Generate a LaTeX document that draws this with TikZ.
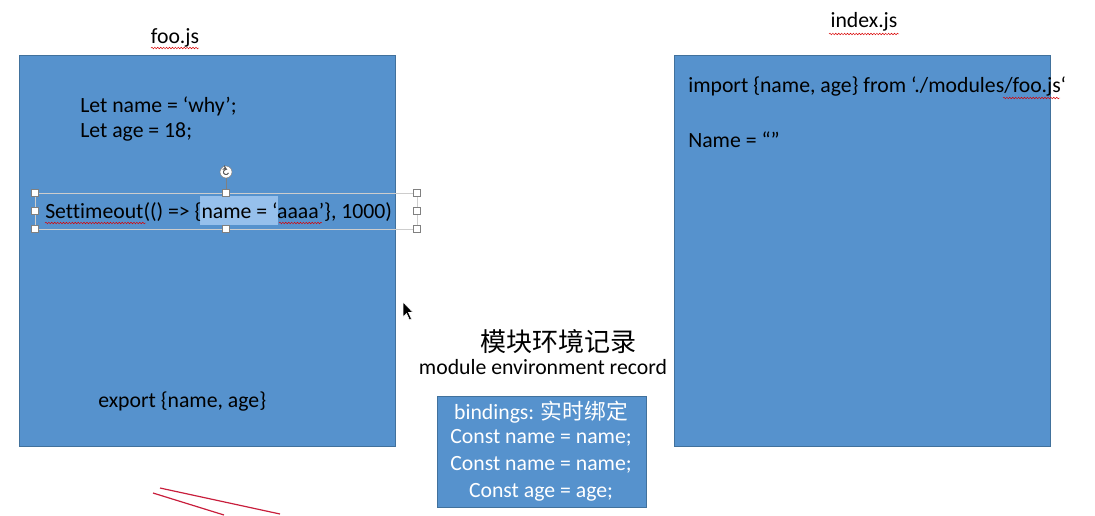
\documentclass[tikz,border=0pt]{standalone}
\usepackage{fontspec}
\setmainfont[Ligatures=NoCommon]{Carlito}
\newfontfamily\cjk{Noto Sans CJK SC}
\usetikzlibrary{decorations.pathmorphing}
\definecolor{boxblue}{RGB}{86,146,205}
\definecolor{boxedge}{RGB}{65,113,156}
\definecolor{hilite}{RGB}{150,192,236}
\definecolor{inkred}{RGB}{200,30,60}
\definecolor{selgray}{RGB}{205,205,205}
\newcommand{\fsz}{\fontsize{16.3pt}{19pt}\selectfont}
\tikzset{
  panel/.style={draw=boxedge, fill=boxblue, line width=0.6pt},
  txt/.style={inner sep=0pt, anchor=west, font=\fsz, text=black},
  wtxt/.style={inner sep=0pt, font=\fsz, text=white},
  handle/.style={draw=gray, fill=white, line width=0.4pt},
  spell/.style={draw=red!85!black, line width=0.35pt, decorate, decoration={snake, amplitude=0.6pt, segment length=2.2pt}},
  redline/.style={draw=inkred, line width=0.9pt}
}
\begin{document}
\begin{tikzpicture}[x=0.75pt,y=-0.75pt]
\useasboundingbox (0,0) rectangle (1095,515);
% panels
\path[panel] (19,55) rectangle (395,446);
\path[panel] (674,55) rectangle (1050,446);
\path[panel] (437,396) rectangle (646,507);
% titles
\node[txt, anchor=center] (footitle) at (175,38) {foo.js};
\node[txt, anchor=center] (idxtitle) at (864,22) {index.js};
\draw[spell] (151,48) -- (199,48);
\draw[spell] (829,34) -- (899,34);
% foo.js content
\node[txt] (let1) at (80,106) {Let name = ‘why’;};
\node[txt] (let2) at (80,132) {Let age = 18;};
% highlight + selection
\fill[hilite] (200,196) rectangle (278,225);
\draw[selgray, line width=0.6pt] (35,193) rectangle (417,229);
\draw[gray, line width=0.5pt] (226,178) -- (226,193);
\node[txt] (timeout) at (45,212) {Settimeout(() => \{name = ‘aaaa’\}, 1000)};
\draw[spell] (45,223) -- (146,223);
\draw[spell] (279,223) -- (322,223);
\foreach \p in {(35,193),(226,193),(417,193),(35,211),(417,211),(35,229),(226,229),(417,229)}
  \path[handle] \p ++(-3.5,-3.5) rectangle ++(7,7);
\node[circle, draw=gray, fill=white, minimum size=9pt, inner sep=0pt, line width=0.4pt] (rot) at (226,172) {};
\draw[gray!70!black, line width=0.7pt, ->, >=stealth] (rot.center) ++(20:2.6) arc (20:300:2.6);
\node[txt] (exp) at (98,402) {export \{name, age\}};
% cursor
\filldraw[fill=black, draw=white, line width=0.4pt] (403,302) -- (403,317) -- (406.5,313.5) -- (409.5,320) -- (411.5,319) -- (408.5,312.5) -- (413,312.5) -- cycle;
% index.js content
\node[txt] (imp) at (688,87) {import \{name, age\} from ‘./modules/foo.js‘};
\draw[spell] (1003,98) -- (1060,98);
\node[txt] (nm) at (688,140) {Name = “”};
% middle labels
\node[inner sep=0pt, font=\cjk\fontsize{19.5pt}{22pt}\selectfont] (cn) at (558,342) {模块环境记录};
\node[inner sep=0pt, font=\fsz] (mer) at (543,367) {module environment record};
\node[wtxt] (b1) at (541,412) {bindings: {\cjk 实时绑定}};
\node[wtxt] (b2) at (541,438) {Const name = name;};
\node[wtxt] (b3) at (541,465) {Const name = name;};
\node[wtxt] (b4) at (541,492) {Const age = age;};
% red strokes
\draw[redline] (160,488) -- (280,514);
\draw[redline] (153,493) -- (224,515);
\end{tikzpicture}
\end{document}
